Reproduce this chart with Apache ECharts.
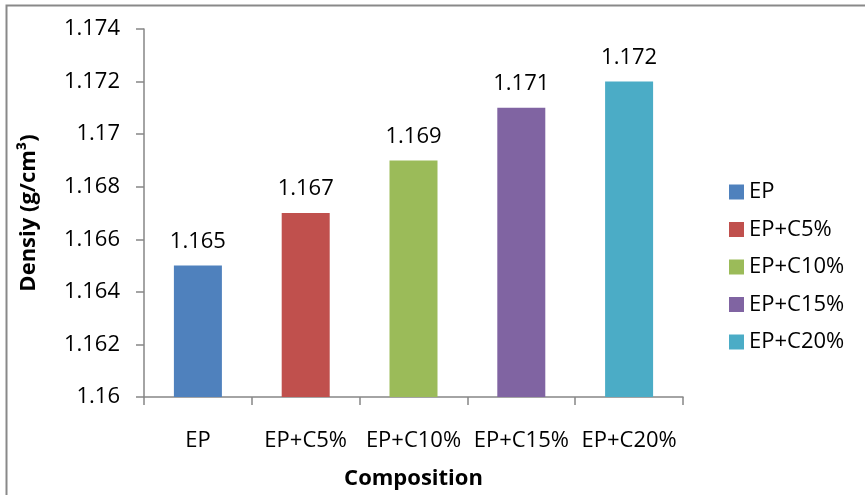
<!DOCTYPE html>
<html>
<head>
<meta charset="utf-8">
<script src="https://cdn.jsdelivr.net/npm/echarts@6/dist/echarts.min.js"></script>
<style>
  html, body { margin: 0; padding: 0; background: #fff; }
  #chart { width: 865px; height: 495px; }
</style>
</head>
<body>
<div id="chart"></div>
<script>
// Composition categories and measured densities
const categories = ['EP', 'EP+C5%', 'EP+C10%', 'EP+C15%', 'EP+C20%'];
const densities = [1.165, 1.167, 1.169, 1.171, 1.172];
const colors = ['#4F81BD', '#C0504D', '#9BBB59', '#8064A2', '#4BACC6'];

const FONT = '"Open Sans", "Noto Sans", sans-serif';
const FS = 22;
const axisGrey = '#868686';

// One series per composition so each gets its own legend entry
const series = categories.map((name, i) => ({
  name: name,
  type: 'bar',
  barWidth: 48,
  barGap: '-100%',
  itemStyle: { color: colors[i] },
  label: {
    show: true,
    position: 'top',
    distance: 13,
    color: '#000',
    fontFamily: FONT,
    fontSize: FS,
    formatter: p => String(p.value)
  },
  data: categories.map((c, j) => (j === i ? densities[i] : '-'))
}));

const chart = echarts.init(document.getElementById('chart'));
chart.setOption({
  animation: false,
  backgroundColor: '#fff',
  textStyle: { fontFamily: FONT },
  grid: { left: 144, right: 182, top: 29, bottom: 95 },
  legend: {
    orient: 'vertical',
    left: 724,
    top: 176,
    itemWidth: 15,
    itemHeight: 15,
    itemGap: 15.5,
    icon: 'rect',
    textStyle: { fontFamily: FONT, fontSize: FS, color: '#000' },
    data: categories
  },
  xAxis: {
    type: 'category',
    data: categories,
    name: 'Composition',
    nameLocation: 'middle',
    nameGap: 71,
    nameTextStyle: { fontFamily: FONT, fontSize: FS, fontWeight: 'bold', color: '#000' },
    axisLine: { lineStyle: { color: axisGrey, width: 1.5 } },
    axisTick: { show: true, length: 8, lineStyle: { color: axisGrey, width: 1.5 } },
    axisLabel: { interval: 0, hideOverlap: false, margin: 33, fontFamily: FONT, fontSize: FS, color: '#000' },
    splitLine: { show: false }
  },
  yAxis: {
    type: 'value',
    min: 1.16,
    max: 1.174,
    interval: 0.002,
    name: 'Densiy (g/cm³)',
    nameLocation: 'middle',
    nameGap: 104,
    nameTextStyle: { fontFamily: FONT, fontSize: FS, fontWeight: 'bold', color: '#000' },
    axisLine: { show: true, lineStyle: { color: axisGrey, width: 1.5 } },
    axisTick: { show: true, length: 8, lineStyle: { color: axisGrey, width: 1.5 } },
    axisLabel: {
      margin: 24,
      fontFamily: FONT,
      fontSize: FS,
      color: '#000',
      formatter: v => String(parseFloat(v.toFixed(3)))
    },
    splitLine: { show: false }
  },
  graphic: [{
    type: 'rect',
    shape: { x: 6.5, y: 5.5, width: 900, height: 600 },
    style: { fill: 'none', stroke: '#898989', lineWidth: 2 },
    silent: true
  }],
  series: series
});
</script>
</body>
</html>
